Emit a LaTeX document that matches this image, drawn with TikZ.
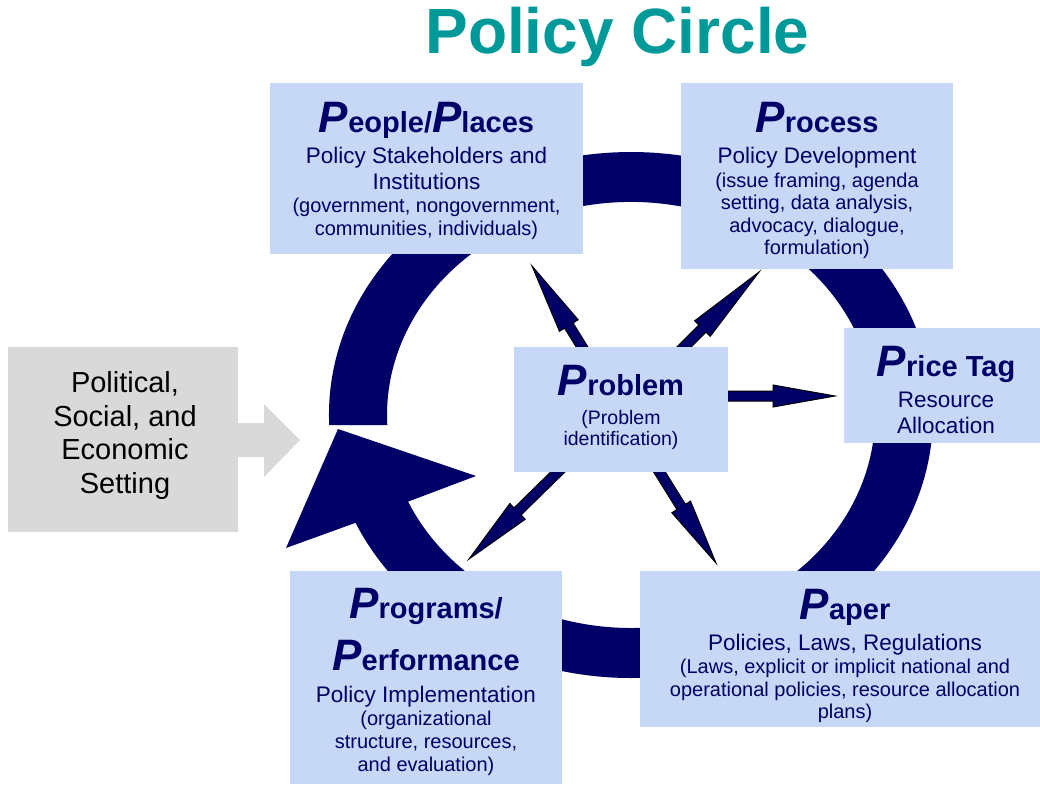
\documentclass[tikz,border=0pt]{standalone}
\usepackage{fontspec}
\setmainfont{Liberation Sans}
\usetikzlibrary{calc}
\definecolor{navy}{RGB}{0,0,102}
\definecolor{boxblue}{RGB}{198,216,245}
\definecolor{setgray}{RGB}{217,217,217}
\definecolor{titleteal}{RGB}{0,153,153}
\newcommand\hd[2]{{\fontsize{44}{44}\selectfont\bfseries\itshape #1}{\fontsize{29}{29}\selectfont\bfseries #2}}
\newcommand\parrow[3][66]{%
  \coordinate (hb) at ($(#3)!#1pt!(#2)$);
  \draw[smallarrow] ($(#2)!5pt!90:(#3)$) -- ($(hb)!5pt!90:(#3)$) -- ($(hb)!11pt!90:(#3)$) -- (#3)
    -- ($(hb)!11pt!-90:(#3)$) -- ($(hb)!5pt!-90:(#3)$) -- ($(#2)!5pt!-90:(#3)$) -- cycle;}
\begin{document}
\begin{tikzpicture}[x=1pt,y=-1pt,
  box/.style={fill=boxblue, inner sep=0pt, outer sep=0pt, anchor=north west},
  txt/.style={anchor=base, text=navy, inner sep=0pt},
  big/.style={font=\fontsize{22.5}{26}\selectfont},
  small/.style={font=\fontsize{20}{23}\selectfont},
  smallarrow/.style={fill=navy, draw=black, line width=1pt, line join=miter}]
\useasboundingbox (0,0) rectangle (1040,784);
% title
\node[anchor=base, text=titleteal, inner sep=0pt, font=\fontsize{64}{64}\selectfont\bfseries] (title) at (617.5,53) {Policy Circle};
% big circular arrow
\fill[navy] (329.2,425.1) arc[start angle=177.8, end angle=515.8, x radius=302, y radius=263]
  -- (286,548) -- (338,429) -- (476,476) -- (408.1,501.6)
  arc[start angle=516, end angle=177.3, x radius=244, y radius=213] -- cycle;
% setting arrow
\fill[setgray] (230,423) -- (264,423) -- (264,404) -- (300,440) -- (264,477) -- (264,457) -- (230,457) -- cycle;
% small arrows from problem
\coordinate (pc) at (621,410);
\coordinate (pcr) at (621,396);
\coordinate (tPeople) at (532,266);
\coordinate (tProcess) at (759,272);
\coordinate (tPrice) at (835,396);
\coordinate (tPrograms) at (469,559);
\coordinate (tPaper) at (716,563);
\parrow[70]{pc}{tPeople}
\parrow[80]{pc}{tProcess}
\parrow[62]{pcr}{tPrice}
\parrow[68]{pc}{tPrograms}
\parrow[66]{pc}{tPaper}
% boxes
\node[box, fill=setgray, minimum width=230pt, minimum height=185pt] (setting) at (8,347) {};
\node[box, minimum width=313pt, minimum height=171pt] (people) at (270,83) {};
\node[box, minimum width=272pt, minimum height=186pt] (process) at (681,83) {};
\node[box, minimum width=196pt, minimum height=115pt] (price) at (844,328) {};
\node[box, minimum width=214pt, minimum height=125pt] (problem) at (514,347) {};
\node[box, minimum width=272pt, minimum height=213pt] (programs) at (290,571) {};
\node[box, minimum width=400pt, minimum height=156pt] (paper) at (640,571) {};
% setting text
\begin{scope}[every node/.style={anchor=base, inner sep=0pt, text=black, font=\fontsize{29}{33}\selectfont}]
\node (s1) at (125,392.5) {Political,};
\node (s2) at (125,426.2) {Social, and};
\node (s3) at (125,459.9) {Economic};
\node (s4) at (125,493.5) {Setting};
\end{scope}
% people
\node[txt] (peopleH) at (426.5,132) {\hd{P}{eople/}\hd{P}{laces}};
\node[txt, big] (people1) at (426.5,163) {Policy Stakeholders and};
\node[txt, big] (people2) at (426.5,189) {Institutions};
\node[txt, small] (people3) at (426.5,212) {(government, nongovernment,};
\node[txt, small] (people4) at (426.5,235) {communities, individuals)};
% process
\node[txt] (processH) at (817,132) {\hd{P}{rocess}};
\node[txt, big] (process1) at (817,163) {Policy Development};
\node[txt, small] (process2) at (817,187) {(issue framing, agenda};
\node[txt, small] (process3) at (817,209.5) {setting, data analysis,};
\node[txt, small] (process4) at (817,232) {advocacy, dialogue,};
\node[txt, small] (process5) at (817,254.5) {formulation)};
% price tag
\node[txt] (priceH) at (946,376) {\hd{P}{rice Tag}};
\node[txt, big] (price1) at (946,407) {Resource};
\node[txt, big] (price2) at (946,433) {Allocation};
% problem
\node[txt] (problemH) at (621,395.7) {\hd{P}{roblem}};
\node[txt, font=\fontsize{19.5}{22}\selectfont] (problem1) at (621,424) {(Problem};
\node[txt, font=\fontsize{19.5}{22}\selectfont] (problem2) at (621,445) {identification)};
% programs
\node[txt] (programsH1) at (426,618) {\hd{P}{rograms/}};
\node[txt] (programsH2) at (426,670) {\hd{P}{erformance}};
\node[txt, big] (programs1) at (426,702) {Policy Implementation};
\node[txt, small] (programs2) at (426,725) {(organizational};
\node[txt, small] (programs3) at (426,748) {structure, resources,};
\node[txt, small] (programs4) at (426,771) {and evaluation)};
% paper
\node[txt] (paperH) at (845,619) {\hd{P}{aper}};
\node[txt, big] (paper1) at (845,650) {Policies, Laws, Regulations};
\node[txt, small] (paper2) at (845,673) {(Laws, explicit or implicit national and};
\node[txt, small] (paper3) at (845,696) {operational policies, resource allocation};
\node[txt, small] (paper4) at (845,718.5) {plans)};
\end{tikzpicture}
\end{document}
